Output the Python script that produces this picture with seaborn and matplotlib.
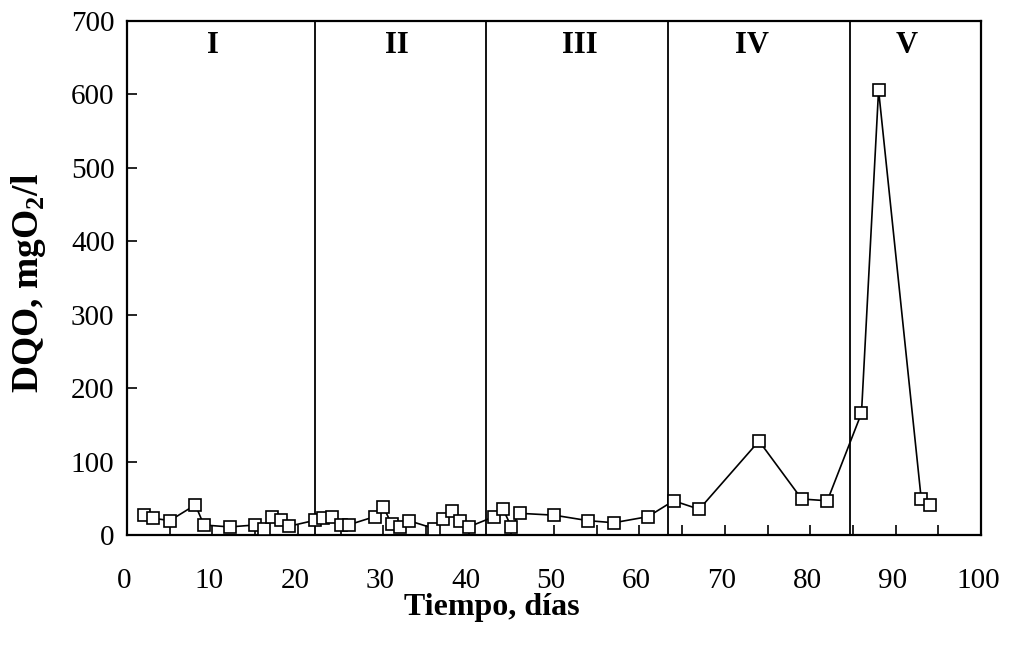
import matplotlib
matplotlib.use("Agg")
import matplotlib.pyplot as plt
import matplotlib.transforms as mtransforms
from matplotlib.ticker import MultipleLocator
import seaborn as sns
import pandas as pd

# Data
dias = [2, 3, 5, 8, 9, 12, 15, 16, 17, 18, 19, 22, 23, 24, 25, 26, 29, 30, 31, 32,
        33, 36, 37, 38, 39, 40, 43, 44, 45, 46, 50, 54, 57, 61, 64, 67, 74, 79, 82,
        86, 88, 93, 94]
dqo = [27, 23, 19.5, 41, 13.6, 11, 13.6, 8.6, 25, 20, 12, 20, 22.7, 25, 14, 14,
       25, 38.5, 14.5, 11, 19.5, 8.6, 22, 33, 19.5, 11, 25, 36, 11, 29.5, 27, 19.5,
       16.7, 25, 46.6, 35, 128, 49, 46.6, 166, 606, 48.5, 41]
limites = [22, 42, 63.3, 84.6]
etapas = ["I", "II", "III", "IV", "V"]
etapas_x = [10.1, 31.6, 53.0, 73.2, 91.3]

sns.set_theme(style="white")
plt.rcParams['font.family'] = ['Liberation Serif', 'DejaVu Serif']
plt.rcParams['mathtext.fontset'] = 'custom'
plt.rcParams['mathtext.rm'] = 'Liberation Serif'
plt.rcParams['mathtext.bf'] = 'Liberation Serif:bold'

df = pd.DataFrame({"dias": dias, "dqo": dqo})

fig = plt.figure(figsize=(10.09, 6.48), dpi=100)
ax = fig.add_axes([0.1259, 0.1744, 0.8464, 0.7932])

sns.lineplot(data=df, x="dias", y="dqo", ax=ax, color="black", linewidth=1.2,
             marker="s", markersize=8, markerfacecolor="white",
             markeredgecolor="black", markeredgewidth=1.2, sort=False,
             estimator=None, zorder=3)

for xv in limites:
    ax.axvline(xv, color="black", linewidth=1.3, zorder=2)

for lab, xv in zip(etapas, etapas_x):
    ax.text(xv, 667, lab, ha="center", va="center", fontsize=22,
            fontweight="bold", color="black")

ax.set_xlim(0, 100)
ax.set_ylim(0, 700)
ax.xaxis.set_major_locator(MultipleLocator(10))
ax.xaxis.set_minor_locator(MultipleLocator(5))
ax.yaxis.set_major_locator(MultipleLocator(100))

for s in ax.spines.values():
    s.set_visible(True)
    s.set_color("black")
    s.set_linewidth(1.6)

ax.tick_params(axis="x", which="both", direction="in", length=7, width=1.2,
               color="black", labelsize=21, pad=24, bottom=True)
ax.tick_params(axis="y", which="both", direction="in", length=7, width=1.2,
               color="black", labelsize=21, pad=9, left=True)

shift = mtransforms.ScaledTranslation(-3 / 100, 0, fig.dpi_scale_trans)
for t in ax.get_xticklabels():
    t.set_transform(t.get_transform() + shift)
for t in ax.get_xticklabels() + ax.get_yticklabels():
    t.set_color("black")

ax.set_xlabel("Tiempo, días", fontsize=23, fontweight="bold", color="black")
ax.xaxis.set_label_coords(0.427, -0.113)
ax.set_ylabel(r"DQO, mgO$_\mathbf{2}$/l", fontsize=27, fontweight="bold",
              color="black")
ax.yaxis.set_label_coords(-0.093, 0.49)

fig.savefig("out.png", dpi=100, facecolor="white")
